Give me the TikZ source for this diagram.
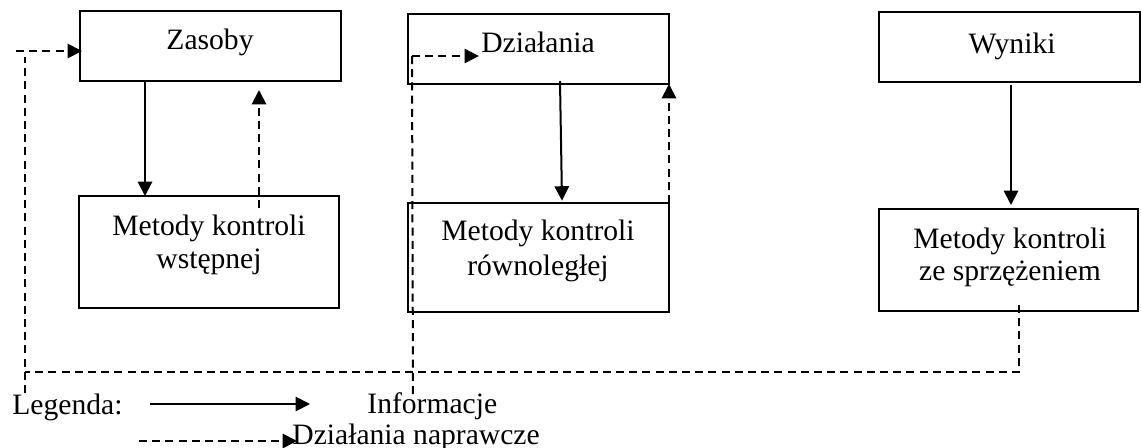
\documentclass[tikz,border=0pt]{standalone}
\usepackage{fontspec}
\setmainfont{Liberation Serif}
\usetikzlibrary{arrows.meta}
\begin{document}
\begin{tikzpicture}[x=0.5pt,y=-0.5pt,
  box/.style={draw,line width=0.65pt,inner sep=0pt,outer sep=0pt},
  txt/.style={inner sep=0pt,anchor=base,font=\fontsize{14.8}{16.8}\selectfont},
  txtw/.style={txt,anchor=base west},
  tip/.style={-{Triangle[length=7.2pt,width=7.2pt]}},
  info/.style={line width=1pt},
  fix/.style={line width=1pt,dash pattern=on 4pt off 2.6pt}]
\useasboundingbox (0,0) rectangle (1141,447);

% upper row: resources, actions, results
\node[box,minimum width=130.5pt,minimum height=35pt] (zas) at (210.5,46) {};
\node[box,minimum width=130.5pt,minimum height=35pt] (dzi) at (538.5,49) {};
\node[box,minimum width=130.5pt,minimum height=35pt] (wyn) at (1009.5,47) {};
\node[txt] (zasT) at (210,49) {Zasoby};
\node[txt] (dziT) at (538,52) {Działania};
\node[txt] (wynT) at (1012,53) {Wyniki};

% lower row: control methods
\node[box,minimum width=130pt,minimum height=56pt] (wst) at (209,252) {};
\node[box,minimum width=130.5pt,minimum height=54.5pt] (row) at (538.5,257.5) {};
\node[box,minimum width=129.5pt,minimum height=51pt] (spr) at (1008.5,260) {};
\node[txt] (wstA) at (209,235) {Metody kontroli};
\node[txt] (wstB) at (209,268) {wstępnej};
\node[txt] (rowA) at (538,240.5) {Metody kontroli};
\node[txt] (rowB) at (538,275) {równoległej};
\node[txt] (sprA) at (1010,248) {Metody kontroli};
\node[txt] (sprB) at (1010,280) {ze sprzężeniem};

% column positions of the vertical connectors
\coordinate (c1) at (145,0);
\coordinate (c2) at (259,0);
\coordinate (c3a) at (560,0);
\coordinate (c3b) at (562,0);
\coordinate (c5) at (1011,0);

% information flow (solid)
\draw[info,tip] (zas.south -| c1) -- (wst.north -| c1);
\draw[info,tip] ([yshift=1.5pt]dzi.south -| c3a) -- ([yshift=1.2pt]row.north -| c3b);
\draw[info,tip] ([yshift=-1.5pt]wyn.south -| c5) -- ([yshift=2pt]spr.north -| c5);

% corrective actions (dashed)
\draw[fix,tip] ([yshift=-6pt]wst.north -| c2) -- ([yshift=-4.5pt]zas.south -| c2);
\draw[fix,tip] (row.north east) -- (dzi.south east);

% feedback loop from the results back to the resources
\coordinate (busR) at (1019,372);
\coordinate (busL) at (25,372);
\coordinate (fbB) at (25,393);
\coordinate (fbT) at (25,57);
\coordinate (fbS) at (16,51);
\draw[fix] ([yshift=3pt]spr.south -| busR) -- (busR) -- (busL);
\draw[fix] (fbB) -- (fbT);
\draw[fix,tip] (fbS) -- ([xshift=1pt,yshift=-2.5pt]zas.west);

% concurrent control line into the actions
\coordinate (midT) at (412,56);
\coordinate (midB) at (413,397);
\draw[fix] (midT) -- (midB);
\draw[fix,tip] (midT) -- ([xshift=-1pt]midT -| dziT.west);

% legend
\node[txtw] (leg) at (12,414) {Legenda:};
\node[txtw] (inf) at (367,413) {Informacje};
\node[txtw] (nap) at (292,444) {Działania naprawcze};
\coordinate (lgA) at (150,404);
\coordinate (lgB) at (310,404);
\coordinate (lgC) at (139,441);
\coordinate (lgD) at (297,441);
\draw[info,tip] (lgA) -- (lgB);
\draw[fix,tip] (lgC) -- (lgD);
\end{tikzpicture}
\end{document}
